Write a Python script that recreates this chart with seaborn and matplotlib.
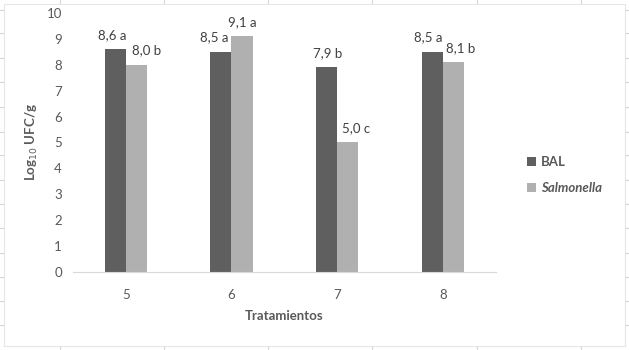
import pandas as pd
import numpy as np
import matplotlib.pyplot as plt
import seaborn as sns
from matplotlib.lines import Line2D

# Chart data
tratamientos = ['5', '6', '7', '8']
bal = [8.6, 8.5, 7.9, 8.5]
salmonella = [8.0, 9.1, 5.0, 8.1]
bal_labels = ['8,6 a', '8,5 a', '7,9 b', '8,5 a']
salmonella_labels = ['8,0 b', '9,1 a', '5,0 c', '8,1 b']

# label nudges (pixels) as placed by hand in the original
bal_dx = [-3, -7, 1, -4]
salmonella_dx = [10, 0, 8, 7]

df = pd.DataFrame({
    'Tratamientos': tratamientos * 2,
    'valor': bal + salmonella,
    'serie': ['BAL'] * 4 + ['Salmonella'] * 4,
})

sns.set_style('white')
plt.rcParams['font.family'] = ['Lato', 'DejaVu Sans']
text_col = '#595959'

fig = plt.figure(figsize=(6.29, 3.5), dpi=100)
ax = fig.add_axes([0.116, 0.223, 0.672, 0.74])

sns.barplot(data=df, x='Tratamientos', y='valor', hue='serie', ax=ax,
            palette=['#5f5f5f', '#b0b0b0'], width=0.4, saturation=1,
            edgecolor='none')

for cont, labs, dxs in zip(ax.containers, [bal_labels, salmonella_labels], [bal_dx, salmonella_dx]):
    for rect, lab, dx in zip(cont, labs, dxs):
        ax.annotate(lab, (rect.get_x() + rect.get_width() / 2, rect.get_height()),
                    xytext=(dx * 0.72, 6), textcoords='offset points',
                    ha='center', va='bottom', fontsize=9.5, color='#404040')

ax.set_ylim(0, 10)
ax.set_yticks(range(0, 11))
ax.set_xlim(-0.5, 3.5)
ax.tick_params(axis='both', length=0, labelsize=9.5, labelcolor=text_col)
ax.tick_params(axis='x', pad=12)
ax.tick_params(axis='y', pad=8)
for s in ['top', 'right', 'left']:
    ax.spines[s].set_visible(False)
ax.spines['bottom'].set_color('#d9d9d9')

ax.set_ylabel('Log$_{10}$ UFC/g', fontsize=9.5, fontweight='bold', color=text_col, labelpad=5)
ax.set_xlabel('Tratamientos', fontsize=9.5, fontweight='bold', color=text_col, labelpad=7)

leg = ax.legend(loc='center left', bbox_to_anchor=(1.045, 0.374), frameon=False,
                handlelength=0.7, handleheight=0.7, labelspacing=1.1,
                handletextpad=0.4, fontsize=9.5)
for t in leg.get_texts():
    t.set_color(text_col)
    t.set_fontweight('bold')
leg.get_texts()[1].set_fontstyle('italic')

# faint spreadsheet cell borders around the chart
cell = '#d4d4d4'
W, H = 629.0, 350.0
for x in [60, 164, 268, 372, 477, 581]:
    fig.add_artist(Line2D([x / W, x / W], [1 - 4 / H, 1.0], color=cell, lw=0.8))
    fig.add_artist(Line2D([x / W, x / W], [0.0, 4 / H], color=cell, lw=0.8))
for y in [10, 33, 58, 82, 107, 132, 155, 180, 204, 228, 253, 277, 301, 325]:
    fig.add_artist(Line2D([0.0, 4 / W], [1 - y / H, 1 - y / H], color=cell, lw=0.8))
    fig.add_artist(Line2D([1 - 4 / W, 1.0], [1 - y / H, 1 - y / H], color=cell, lw=0.8))
fig.add_artist(Line2D([4 / W, 1 - 4 / W], [1 - 4 / H, 1 - 4 / H], color='#e6e6e6', lw=0.8))
fig.add_artist(Line2D([4 / W, 1 - 4 / W], [4 / H, 4 / H], color='#e6e6e6', lw=0.8))
fig.add_artist(Line2D([4 / W, 4 / W], [4 / H, 1 - 4 / H], color='#e6e6e6', lw=0.8))
fig.add_artist(Line2D([1 - 4 / W, 1 - 4 / W], [4 / H, 1 - 4 / H], color='#e6e6e6', lw=0.8))

plt.savefig('out.png', dpi=100)
plt.close()
